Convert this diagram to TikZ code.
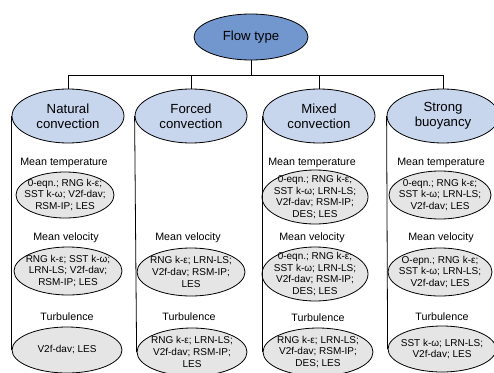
\documentclass[tikz,border=0pt]{standalone}
\usepackage{fontspec}
\setmainfont{Liberation Sans}
\usetikzlibrary{shapes.geometric}
\definecolor{topblue}{RGB}{114,150,206}
\definecolor{hdrblue}{RGB}{199,213,237}
\definecolor{cellgray}{RGB}{229,229,229}
\newcommand{\cellnode}[6]{%
  \node[cellshape, minimum width=#4pt, minimum height=#5pt] (#1) at (#2,#3) {};
  \node[celltext] at (#1.center) {#6};}
\begin{document}
\begin{tikzpicture}[x=1pt,y=-1pt,
  topnode/.style={ellipse, draw, line width=0.8pt, fill=topblue, minimum width=114pt, minimum height=46pt, inner sep=0pt, font=\fontsize{13.2}{15}\selectfont},
  hdr/.style={ellipse, draw, line width=0.8pt, fill=hdrblue, minimum width=112pt, minimum height=54pt, inner sep=0pt, align=center, font=\fontsize{13.2}{15}\selectfont},
  cellshape/.style={ellipse, draw, line width=0.8pt, fill=cellgray, inner sep=0pt},
  celltext/.style={inner sep=0pt, align=center, font=\fontsize{10}{11.7}\selectfont},
  lbl/.style={inner sep=0pt, font=\fontsize{10.7}{12}\selectfont},
  wire/.style={line width=0.9pt},
  side/.style={line width=0.8pt}]
\useasboundingbox (0,0) rectangle (494,372);
% root
\node[topnode] (root) at (251,37) {Flow type};
\coordinate (bus) at (251,75);
% headers
\node[hdr] (nat) at (68,116) {Natural\\convection};
\node[hdr] (for) at (191,116) {Forced\\convection};
\node[hdr] (mix) at (319,116) {Mixed\\convection};
\node[hdr] (str) at (443,116) {Strong\\buoyancy};
\draw[wire] (root) -- (bus);
\draw[wire] (bus) -| (nat);
\draw[wire] (bus) -| (for);
\draw[wire] (bus) -| (mix);
\draw[wire] (bus) -| (str);
% Natural convection
\node[lbl] (natmtl) at (64,163) {Mean temperature};
\cellnode{natmt}{65}{195}{98}{46}{0-eqn.; RNG k-ε;\\SST k-ω; V2f-dav;\\RSM-IP; LES}
\node[lbl] (natmvl) at (66,238) {Mean velocity};
\cellnode{natmv}{68}{271}{108}{48}{RNG k-ε; SST k-ω;\\LRN-LS; V2f-dav;\\RSM-IP; LES}
\node[lbl] (nattul) at (67,317) {Turbulence};
\cellnode{nattu}{67}{350}{110}{46}{V2f-dav; LES}
% Forced convection
\node[lbl] (formvl) at (188,238) {Mean velocity};
\cellnode{formv}{191}{272}{108}{48}{RNG k-ε; LRN-LS;\\V2f-dav; RSM-IP;\\LES}
\node[lbl] (fortul) at (189,317) {Turbulence};
\cellnode{fortu}{192}{352}{110}{48}{RNG k-ε; LRN-LS;\\V2f-dav; RSM-IP;\\LES}
% Mixed convection
\node[lbl] (mixmtl) at (312,163) {Mean temperature};
\cellnode{mixmt}{315}{197}{106}{54}{0-eqn.; RNG k-ε;\\SST k-ω; LRN-LS;\\V2f-dav; RSM-IP;\\DES; LES}
\node[lbl] (mixmvl) at (312,238) {Mean velocity};
\cellnode{mixmv}{315}{274}{106}{54}{0-eqn.; RNG k-ε;\\SST k-ω; LRN-LS;\\V2f-dav; RSM-IP;\\DES; LES}
\node[lbl] (mixtul) at (318,318) {Turbulence};
\cellnode{mixtu}{318}{352}{110}{48}{RNG k-ε; LRN-LS;\\V2f-dav; RSM-IP;\\DES; LES}
% Strong buoyancy
\node[lbl] (strmtl) at (441,163) {Mean temperature};
\cellnode{strmt}{440}{195}{102}{48}{0-eqn.; RNG k-ε;\\SST k-ω; LRN-LS;\\V2f-dav; LES}
\node[lbl] (strmvl) at (441,238) {Mean velocity};
\cellnode{strmv}{440}{272}{104}{48}{O-epn.; RNG k-ε;\\SST k-ω; LRN-LS;\\V2f-dav; LES}
\node[lbl] (strtul) at (442,317) {Turbulence};
\cellnode{strtu}{442}{349}{108}{46}{SST k-ω; LRN-LS;\\V2f-dav; LES}
% column sides
\draw[side] (nat.west) -- (nattu.west);
\draw[side] (for.west) -- (fortu.west);
\draw[side] (mix.west) -- (mixtu.west);
\draw[side] (str.west) -- (strtu.west);
\end{tikzpicture}
\end{document}
